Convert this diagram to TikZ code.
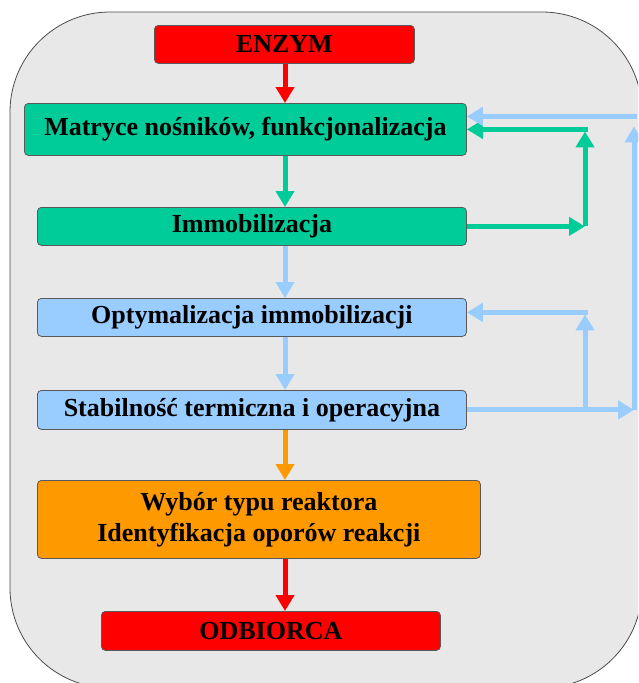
\documentclass[tikz,border=0pt]{standalone}
\usepackage{fontspec}
\setmainfont{Liberation Serif}
\usetikzlibrary{arrows.meta}
\definecolor{cred}{HTML}{FF0000}
\definecolor{cgreen}{HTML}{00CC99}
\definecolor{cblue}{HTML}{99CCFF}
\definecolor{corange}{HTML}{FF9900}
\definecolor{cbg}{HTML}{E8E8E8}
\begin{document}
\begin{tikzpicture}[x=1pt,y=-1pt,
  box/.style={draw=black!65, line width=0.8pt, rounded corners=4pt,
    font=\bfseries\fontsize{26}{31}\selectfont, inner sep=0pt,
    anchor=north west, align=center},
  flow/.style={line width=5pt, -{Triangle[width=18pt,length=16pt]}},
  plain/.style={line width=5pt}]
\useasboundingbox (0,0) rectangle (638,683);
\clip (0,0) rectangle (638,683);
\draw[fill=cbg, draw=black!70, line width=0.8pt, rounded corners=100pt] (10,12) rectangle (642,688);

\node[box, fill=cred, minimum width=260pt, minimum height=38pt] (enz) at (154,25) {ENZYM};
\node[box, fill=cgreen, minimum width=442pt, minimum height=52pt] (mat) at (24,103) {Matryce nośników, funkcjonalizacja};
\node[box, fill=cgreen, minimum width=429pt, minimum height=38pt] (imm) at (37,207) {Immobilizacja};
\node[box, fill=cblue, minimum width=429pt, minimum height=38pt] (opt) at (37,298) {Optymalizacja immobilizacji};
\node[box, fill=cblue, minimum width=429pt, minimum height=39pt] (stab) at (37,390) {Stabilność termiczna i operacyjna};
\node[box, fill=corange, minimum width=443pt, minimum height=78pt] (wyb) at (37,480) {Wybór typu reaktora\\Identyfikacja oporów reakcji};
\node[box, fill=cred, minimum width=339pt, minimum height=39pt] (odb) at (101,611) {ODBIORCA};

\coordinate (ax) at (285,0);
\coordinate (gx) at (585,0);
\coordinate (rx) at (634,0);

% vertical flow
\draw[flow, cred] (ax |- enz.south) -- (ax |- mat.north);
\draw[flow, cgreen] (ax |- mat.south) -- (ax |- imm.north);
\draw[flow, cblue] (ax |- imm.south) -- (ax |- opt.north);
\draw[flow, cblue] (ax |- opt.south) -- (ax |- stab.north);
\draw[flow, corange] (ax |- stab.south) -- (ax |- wyb.north);
\draw[flow, cred] (ax |- wyb.south) -- (ax |- odb.north);

% green loop
\coordinate (g1) at (gx |- imm.east);
\coordinate (g2) at (gx |- mat.east);
\draw[flow, cgreen] (imm.east) -- (g1);
\draw[flow, cgreen] (g1) -- ([yshift=-2pt]g2);
\draw[plain, cgreen] ([xshift=2.5pt]g2) -- ([xshift=10pt]mat.east);
\draw[flow, cgreen] ([xshift=12pt]mat.east) -- (mat.east);

% big blue loop
\coordinate (m1) at ([yshift=13pt]mat.east);
\coordinate (r1) at (rx |- stab.east);
\coordinate (r2) at (rx |- m1);
\draw[flow, cblue] (stab.east) -- (r1);
\draw[flow, cblue] (r1) -- ([yshift=-10pt]r2);
\draw[plain, cblue] ([xshift=2.5pt]r2) -- ([xshift=10pt]m1);
\draw[flow, cblue] ([xshift=12pt]m1) -- (m1);

% small blue loop
\coordinate (o1) at ([yshift=5pt]opt.east);
\coordinate (b1) at (gx |- stab.east);
\coordinate (b2) at (gx |- o1);
\draw[flow, cblue] (b1) -- ([yshift=-2pt]b2);
\draw[plain, cblue] ([xshift=2.5pt]b2) -- ([xshift=10pt]o1);
\draw[flow, cblue] ([xshift=12pt]o1) -- (o1);
\end{tikzpicture}
\end{document}
